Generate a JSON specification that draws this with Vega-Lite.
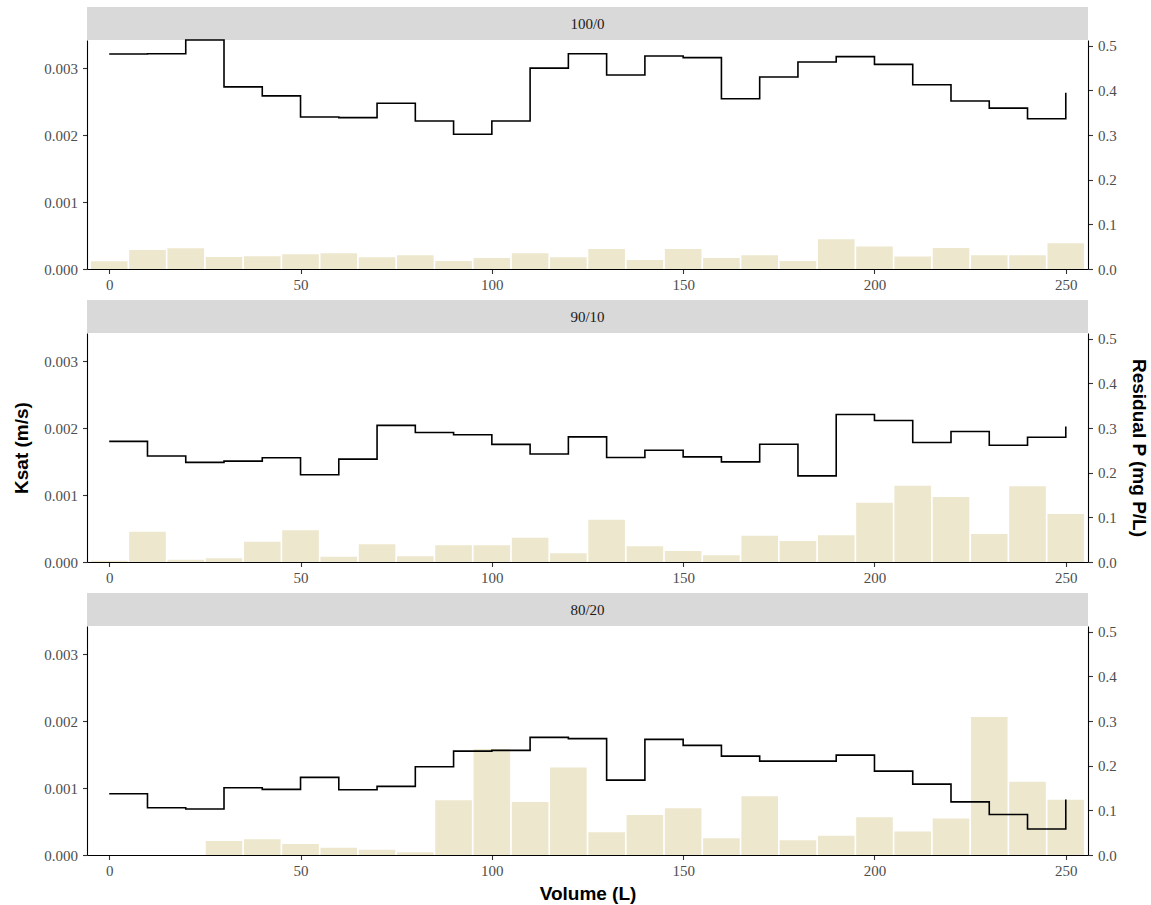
{
  "$schema": "https://vega.github.io/schema/vega-lite/v6.json",
  "background": "white",
  "padding": {"top": 7, "left": 12, "right": 2, "bottom": 2},
  "datasets": {
    "p100": [
      {"vol": 0, "ksat": 0.00321, "resP": 0.0173},
      {"vol": 10, "ksat": 0.003214, "resP": 0.0427},
      {"vol": 20, "ksat": 0.00342, "resP": 0.0465},
      {"vol": 30, "ksat": 0.00272, "resP": 0.027},
      {"vol": 40, "ksat": 0.002585, "resP": 0.0285},
      {"vol": 50, "ksat": 0.00227, "resP": 0.033},
      {"vol": 60, "ksat": 0.00226, "resP": 0.0353},
      {"vol": 70, "ksat": 0.002476, "resP": 0.0263},
      {"vol": 80, "ksat": 0.002211, "resP": 0.0308},
      {"vol": 90, "ksat": 0.002012, "resP": 0.018},
      {"vol": 100, "ksat": 0.00221, "resP": 0.0247},
      {"vol": 110, "ksat": 0.0030, "resP": 0.0353},
      {"vol": 120, "ksat": 0.003215, "resP": 0.0263},
      {"vol": 130, "ksat": 0.002897, "resP": 0.045},
      {"vol": 140, "ksat": 0.003182, "resP": 0.0202},
      {"vol": 150, "ksat": 0.003157, "resP": 0.045},
      {"vol": 160, "ksat": 0.002542, "resP": 0.0247},
      {"vol": 170, "ksat": 0.002867, "resP": 0.0308},
      {"vol": 180, "ksat": 0.003092, "resP": 0.018},
      {"vol": 190, "ksat": 0.003172, "resP": 0.0667},
      {"vol": 200, "ksat": 0.003056, "resP": 0.0503},
      {"vol": 210, "ksat": 0.002752, "resP": 0.0278},
      {"vol": 220, "ksat": 0.002508, "resP": 0.0472},
      {"vol": 230, "ksat": 0.002403, "resP": 0.0308},
      {"vol": 240, "ksat": 0.002243, "resP": 0.0308},
      {"vol": 250, "ksat": 0.002632, "resP": 0.0577}
    ],
    "p90": [
      {"vol": 0, "ksat": 0.001801, "resP": 0.003},
      {"vol": 10, "ksat": 0.001582, "resP": 0.068},
      {"vol": 20, "ksat": 0.001488, "resP": 0.0052},
      {"vol": 30, "ksat": 0.001507, "resP": 0.0082},
      {"vol": 40, "ksat": 0.001557, "resP": 0.0456},
      {"vol": 50, "ksat": 0.001303, "resP": 0.071},
      {"vol": 60, "ksat": 0.001537, "resP": 0.012},
      {"vol": 70, "ksat": 0.00204, "resP": 0.0396},
      {"vol": 80, "ksat": 0.001935, "resP": 0.0127},
      {"vol": 90, "ksat": 0.0019, "resP": 0.0374},
      {"vol": 100, "ksat": 0.001756, "resP": 0.0374},
      {"vol": 110, "ksat": 0.001612, "resP": 0.0546},
      {"vol": 120, "ksat": 0.001868, "resP": 0.0194},
      {"vol": 130, "ksat": 0.00156, "resP": 0.0949},
      {"vol": 140, "ksat": 0.001669, "resP": 0.0351},
      {"vol": 150, "ksat": 0.00157, "resP": 0.0247},
      {"vol": 160, "ksat": 0.001495, "resP": 0.015},
      {"vol": 170, "ksat": 0.001759, "resP": 0.059},
      {"vol": 180, "ksat": 0.001286, "resP": 0.047},
      {"vol": 190, "ksat": 0.002202, "resP": 0.0598},
      {"vol": 200, "ksat": 0.002113, "resP": 0.133},
      {"vol": 210, "ksat": 0.001784, "resP": 0.171},
      {"vol": 220, "ksat": 0.001948, "resP": 0.1457},
      {"vol": 230, "ksat": 0.001744, "resP": 0.0628},
      {"vol": 240, "ksat": 0.001864, "resP": 0.1697},
      {"vol": 250, "ksat": 0.002023, "resP": 0.1076}
    ],
    "p80": [
      {"vol": 0, "ksat": 0.000915, "resP": 0},
      {"vol": 10, "ksat": 0.000706, "resP": 0},
      {"vol": 20, "ksat": 0.000687, "resP": 0},
      {"vol": 30, "ksat": 0.001005, "resP": 0.0314},
      {"vol": 40, "ksat": 0.00098, "resP": 0.0352},
      {"vol": 50, "ksat": 0.001159, "resP": 0.0247},
      {"vol": 60, "ksat": 0.000975, "resP": 0.0165},
      {"vol": 70, "ksat": 0.001025, "resP": 0.012},
      {"vol": 80, "ksat": 0.001318, "resP": 0.006},
      {"vol": 90, "ksat": 0.001552, "resP": 0.1228},
      {"vol": 100, "ksat": 0.001562, "resP": 0.2373},
      {"vol": 110, "ksat": 0.001756, "resP": 0.119},
      {"vol": 120, "ksat": 0.001738, "resP": 0.1961},
      {"vol": 130, "ksat": 0.001118, "resP": 0.0509},
      {"vol": 140, "ksat": 0.001727, "resP": 0.0898},
      {"vol": 150, "ksat": 0.001637, "resP": 0.1048},
      {"vol": 160, "ksat": 0.001477, "resP": 0.0374},
      {"vol": 170, "ksat": 0.001402, "resP": 0.1317},
      {"vol": 180, "ksat": 0.001402, "resP": 0.0329},
      {"vol": 190, "ksat": 0.001492, "resP": 0.0434},
      {"vol": 200, "ksat": 0.001252, "resP": 0.0846},
      {"vol": 210, "ksat": 0.001058, "resP": 0.0524},
      {"vol": 220, "ksat": 0.000793, "resP": 0.0816},
      {"vol": 230, "ksat": 0.000604, "resP": 0.3091},
      {"vol": 240, "ksat": 0.000389, "resP": 0.1639},
      {"vol": 250, "ksat": 0.000828, "resP": 0.1235}
    ]
  },
  "spacing": 7,
  "vconcat": [
    {
      "spacing": 0,
      "bounds": "flush",
      "vconcat": [
        {
          "width": 1001, "height": 33,
          "view": {"fill": "#d9d9d9", "stroke": null},
          "data": {"values": [{"label": "100/0"}]},
          "mark": {"type": "text", "font": "Liberation Serif", "fontSize": 15, "color": "#1a1a1a"},
          "encoding": {"text": {"field": "label"}}
        },
        {
          "width": 1001, "height": 229,
          "data": {"name": "p100"},
          "layer": [
            {
              "mark": {"type": "bar", "color": "#ede7cd", "width": 36.6},
              "encoding": {
                "x": {"field": "vol", "type": "quantitative", "scale": {"domain": [-4.5, 254.5], "nice": false, "zero": false}, "axis": {"values": [0, 50, 100, 150, 200, 250], "title": null, "labelPadding": 4}},
                "y": {"field": "resP", "type": "quantitative", "scale": {"domain": [0, 0.513], "nice": false}, "axis": {"orient": "right", "values": [0, 0.1, 0.2, 0.3, 0.4, 0.5], "format": ".1f", "title": null}}
              }
            },
            {
              "mark": {"type": "line", "interpolate": "step-after", "color": "black", "strokeWidth": 1.6},
              "encoding": {
                "x": {"field": "vol", "type": "quantitative", "scale": {"domain": [-4.5, 254.5], "nice": false, "zero": false}},
                "y": {"field": "ksat", "type": "quantitative", "scale": {"domain": [0, 0.00342], "nice": false}, "axis": {"orient": "left", "values": [0, 0.001, 0.002, 0.003], "format": ".3f", "title": null}}
              }
            }
          ],
          "resolve": {"scale": {"y": "independent"}}
        }
      ]
    },
    {
      "spacing": 0,
      "bounds": "flush",
      "vconcat": [
        {
          "width": 1001, "height": 33,
          "view": {"fill": "#d9d9d9", "stroke": null},
          "data": {"values": [{"label": "90/10"}]},
          "mark": {"type": "text", "font": "Liberation Serif", "fontSize": 15, "color": "#1a1a1a"},
          "encoding": {"text": {"field": "label"}}
        },
        {
          "width": 1001, "height": 229,
          "data": {"name": "p90"},
          "layer": [
            {
              "mark": {"type": "bar", "color": "#ede7cd", "width": 36.6},
              "encoding": {
                "x": {"field": "vol", "type": "quantitative", "scale": {"domain": [-4.5, 254.5], "nice": false, "zero": false}, "axis": {"values": [0, 50, 100, 150, 200, 250], "title": null, "labelPadding": 4}},
                "y": {"field": "resP", "type": "quantitative", "scale": {"domain": [0, 0.513], "nice": false}, "axis": {"orient": "right", "values": [0, 0.1, 0.2, 0.3, 0.4, 0.5], "format": ".1f", "title": "Residual P (mg P/L)", "titlePadding": 12}}
              }
            },
            {
              "mark": {"type": "line", "interpolate": "step-after", "color": "black", "strokeWidth": 1.6},
              "encoding": {
                "x": {"field": "vol", "type": "quantitative", "scale": {"domain": [-4.5, 254.5], "nice": false, "zero": false}},
                "y": {"field": "ksat", "type": "quantitative", "scale": {"domain": [0, 0.00342], "nice": false}, "axis": {"orient": "left", "values": [0, 0.001, 0.002, 0.003], "format": ".3f", "title": "Ksat (m/s)", "titlePadding": 12}}
              }
            }
          ],
          "resolve": {"scale": {"y": "independent"}}
        }
      ]
    },
    {
      "spacing": 0,
      "bounds": "flush",
      "vconcat": [
        {
          "width": 1001, "height": 33,
          "view": {"fill": "#d9d9d9", "stroke": null},
          "data": {"values": [{"label": "80/20"}]},
          "mark": {"type": "text", "font": "Liberation Serif", "fontSize": 15, "color": "#1a1a1a"},
          "encoding": {"text": {"field": "label"}}
        },
        {
          "width": 1001, "height": 229,
          "data": {"name": "p80"},
          "layer": [
            {
              "mark": {"type": "bar", "color": "#ede7cd", "width": 36.6},
              "encoding": {
                "x": {"field": "vol", "type": "quantitative", "scale": {"domain": [-4.5, 254.5], "nice": false, "zero": false}, "axis": {"values": [0, 50, 100, 150, 200, 250], "title": "Volume (L)", "labelPadding": 4, "titlePadding": 6}},
                "y": {"field": "resP", "type": "quantitative", "scale": {"domain": [0, 0.513], "nice": false}, "axis": {"orient": "right", "values": [0, 0.1, 0.2, 0.3, 0.4, 0.5], "format": ".1f", "title": null}}
              }
            },
            {
              "mark": {"type": "line", "interpolate": "step-after", "color": "black", "strokeWidth": 1.6},
              "encoding": {
                "x": {"field": "vol", "type": "quantitative", "scale": {"domain": [-4.5, 254.5], "nice": false, "zero": false}},
                "y": {"field": "ksat", "type": "quantitative", "scale": {"domain": [0, 0.00342], "nice": false}, "axis": {"orient": "left", "values": [0, 0.001, 0.002, 0.003], "format": ".3f", "title": null}}
              }
            }
          ],
          "resolve": {"scale": {"y": "independent"}}
        }
      ]
    }
  ],
  "config": {
    "view": {"stroke": null},
    "axis": {
      "grid": false,
      "domainColor": "black",
      "domainWidth": 1.1,
      "tickColor": "#333333",
      "tickWidth": 1.1,
      "tickSize": 4.5,
      "labelFont": "Liberation Serif",
      "labelFontSize": 15,
      "labelColor": "#4d4d4d",
      "labelPadding": 5,
      "titleFont": "Liberation Sans",
      "titleFontSize": 19,
      "titleFontWeight": "bold",
      "titleColor": "black"
    }
  }
}
